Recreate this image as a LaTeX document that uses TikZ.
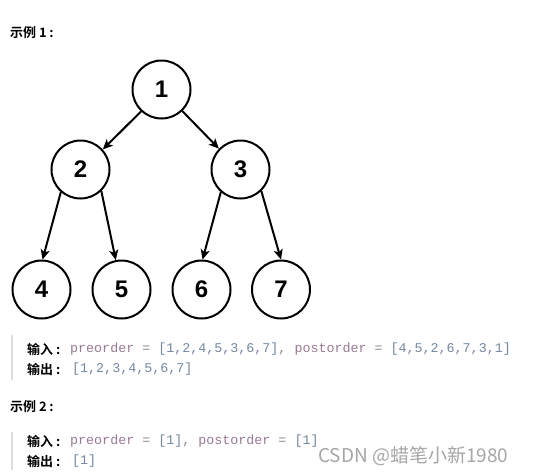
\documentclass[tikz,border=0pt]{standalone}
\usepackage{fontspec}
\setmainfont{Liberation Sans}
\newfontfamily\cjkb[BoldFont={Noto Sans CJK SC Bold}]{Noto Sans CJK SC}
\newfontfamily\cjk{Noto Sans CJK SC}
\newfontfamily\mono{Liberation Mono}
\usetikzlibrary{arrows.meta}
\definecolor{kw}{HTML}{9A7A92}
\definecolor{op}{HTML}{8C8C8C}
\definecolor{num}{HTML}{7488A0}
\definecolor{bar}{HTML}{DDDDDD}
\definecolor{wm}{HTML}{A6A6A6}
\newcommand{\kw}[1]{{\color{kw}#1}}
\newcommand{\op}[1]{{\color{op}#1}}
\newcommand{\nm}[1]{{\color{num}#1}}
\newcommand{\monosetup}{\mono\fontsize{13.35}{15}\selectfont\spaceskip=8.01pt\relax\xspaceskip=8.01pt\relax}
\begin{document}
\begin{tikzpicture}[x=1pt,y=-1pt,
  tnode/.style={circle,draw=black,line width=2pt,minimum size=58pt,inner sep=0pt,
    font=\fontsize{24}{24}\selectfont\bfseries},
  edge/.style={line width=2pt,-{Stealth[length=10pt,width=9pt,inset=2.5pt]}},
  title/.style={anchor=west,inner sep=0pt,font=\cjkb\fontsize{13}{14}\selectfont\bfseries},
  lab/.style={anchor=west,inner sep=0pt,font=\cjkb\fontsize{13}{14}\selectfont\bfseries},
  code/.style={anchor=west,inner sep=0pt,font=\monosetup}]
\useasboundingbox (0,0) rectangle (546,475);
\fill[white] (0,0) rectangle (546,475);

\node[title] (t1) at (10,33) {示例 1\hspace{2.5pt}:};

\node[tnode] (n1) at (161.5,89.5) {1};
\node[tnode] (n2) at (80.5,169.5) {2};
\node[tnode] (n3) at (240.5,169.5) {3};
\node[tnode] (n4) at (41.5,289.5) {4};
\node[tnode] (n5) at (121.5,289.5) {5};
\node[tnode] (n6) at (201.5,289.5) {6};
\node[tnode] (n7) at (281,289.5) {7};

\draw[edge] (n1.227) -- (n2.42);
\draw[edge] (n1.314) -- (n3.136);
\draw[edge] (n2.229) -- (n4.88);
\draw[edge] (n2.314) -- (n5.101);
\draw[edge] (n3.229) -- (n6.88);
\draw[edge] (n3.314) -- (n7.90);

\fill[bar] (10.5,335) rectangle (12.5,380);
\node[lab] (in1) at (27,349) {输入\hspace{3pt}:};
\node[code] (c1) at (70,349) {\kw{preorder} \op{=} \nm{[1,2,4,5,3,6,7]}\op{,} \kw{postorder} \op{=} \nm{[4,5,2,6,7,3,1]}};
\node[lab] (out1) at (27,369) {输出\hspace{3pt}:};
\node[code] (o1) at (72,369) {\nm{[1,2,3,4,5,6,7]}};

\node[title] (t2) at (10,407) {示例 2\hspace{2.5pt}:};

\fill[bar] (10.5,432) rectangle (12.5,470);
\node[lab] (in2) at (27,441) {输入\hspace{3pt}:};
\node[code] (c2) at (70,441) {\kw{preorder} \op{=} \nm{[1]}\op{,} \kw{postorder} \op{=} \nm{[1]}};
\node[lab] (out2) at (27,461) {输出\hspace{3pt}:};
\node[code] (o2) at (72,461) {\nm{[1]}};

\node[anchor=west,inner sep=0pt,text=wm,font=\cjk\fontsize{19}{20}\selectfont] (wm) at (318,456) {CSDN @蜡笔小新1980};
\end{tikzpicture}
\end{document}
